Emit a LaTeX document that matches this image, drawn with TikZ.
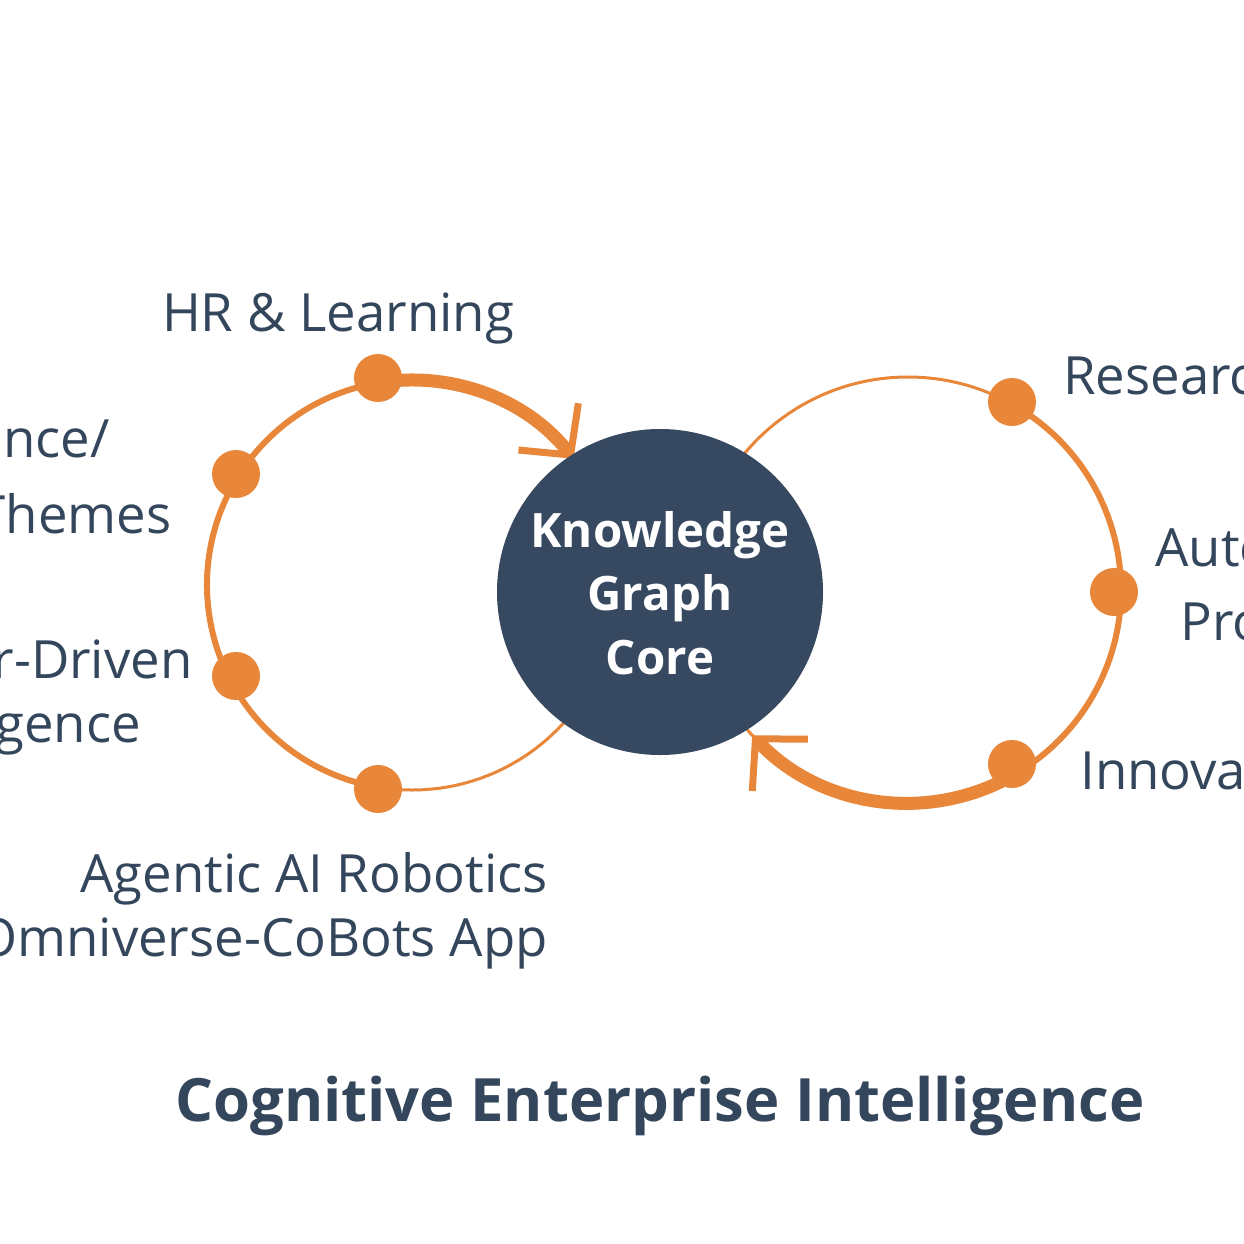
\documentclass[tikz,border=0pt]{standalone}
\usepackage{fontspec}
\setmainfont{Open Sans}
\usetikzlibrary{arrows.meta}
\definecolor{org}{HTML}{E8873A}
\definecolor{navy}{HTML}{374960}
\definecolor{txt}{HTML}{34465C}
\begin{document}
\begin{tikzpicture}[x=0.02cm,y=-0.02cm,
  lbl/.style={text=txt,font=\fontsize{30}{34}\selectfont,inner sep=0pt},
  dot/.style={circle,fill=org,minimum size=48*0.02cm,inner sep=0pt},
  arr/.style={-{Straight Barb[length=36*0.02cm,width=76*0.02cm,line width=7*0.02cm]}}]
\useasboundingbox (0,0) rectangle (1244,1244);
\clip (0,0) rectangle (1244,1244);
\fill[white] (0,0) rectangle (1244,1244);
% left loop
\coordinate (L) at (412,585);
\draw[org,line width=3*0.02cm] (L) circle (205);
\draw[org,line width=6*0.02cm] (L) ++(-99:205) arc (-99:-260:205);
\draw[org,line width=13*0.02cm,arr] (L) ++(-99:205) arc (-99:-38:205);
% right loop
\coordinate (R) at (908,590);
\draw[org,line width=3*0.02cm] (R) circle (213);
\draw[org,line width=6*0.02cm] (R) ++(-61:213) arc (-61:59:213);
\draw[org,line width=13*0.02cm,arr] (R) ++(59:213) arc (59:137:213);
% core
\node[circle,fill=navy,minimum size=326*0.02cm,inner sep=0pt] (core) at (660,592) {};
\node[text=white,font=\fontsize{27}{36}\selectfont\bfseries,align=center] (coret) at (660,593) {Knowledge\\Graph\\Core};
% dots
\node[dot] (d1) at (378,378) {};
\node[dot] (d2) at (236,474) {};
\node[dot] (d3) at (236,676) {};
\node[dot] (d4) at (378,789) {};
\node[dot] (d5) at (1012,402) {};
\node[dot] (d6) at (1114,592) {};
\node[dot] (d7) at (1012,764) {};
% labels
\node[lbl] (t1) at (338,318) {HR \& Learning};
\node[lbl,anchor=east] (t2) at (110,439) {nce/};
\node[lbl,anchor=east] (t3) at (172,514) {Themes};
\node[lbl,anchor=east] (t4) at (193,659) {r-Driven};
\node[lbl,anchor=east] (t5) at (141,734) {gence};
\node[lbl,anchor=east] (t6) at (548,879) {Agentic AI Robotics};
\node[lbl,anchor=east] (t7) at (548,943) {Omniverse-CoBots App};
\node[lbl,anchor=west] (t8) at (1063,375) {Research};
\node[lbl,anchor=west] (t9) at (1155,547) {Automated};
\node[lbl,anchor=west] (t10) at (1180,622) {Process};
\node[lbl,anchor=west] (t11) at (1080,770) {Innovation};
\node[text=txt,font=\fontsize{34}{40}\selectfont\bfseries] (title) at (660,1106) {Cognitive Enterprise Intelligence};
\end{tikzpicture}
\end{document}
